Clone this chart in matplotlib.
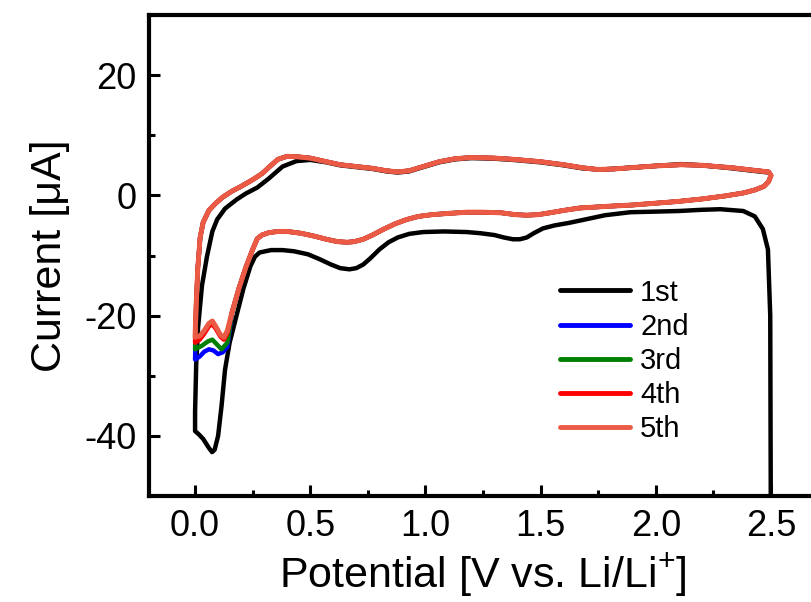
import matplotlib
matplotlib.use("Agg")
import matplotlib.pyplot as plt
import numpy as np

plt.rcParams['font.family'] = ['Liberation Sans', 'DejaVu Sans']
plt.rcParams['axes.unicode_minus'] = False
plt.rcParams['mathtext.default'] = 'regular'

# cycles 2-5 share the same loop away from the low potential region
lower_x = [2.50, 2.49, 2.47, 2.43, 2.38, 2.30, 2.20, 2.10, 2.00, 1.90, 1.80, 1.67,
           1.60, 1.54, 1.49, 1.44, 1.39, 1.33, 1.25, 1.18, 1.10, 1.03, 0.97, 0.92,
           0.87, 0.82, 0.77, 0.73, 0.69, 0.66, 0.62, 0.57, 0.52, 0.46, 0.40, 0.36,
           0.32, 0.29, 0.27, 0.25, 0.22, 0.19, 0.16]
lower_y = [3.3, 2.3, 1.5, 0.9, 0.4, -0.1, -0.6, -1.0, -1.3, -1.6, -1.8, -2.1,
           -2.5, -2.9, -3.2, -3.3, -3.2, -2.9, -2.8, -2.8, -3.0, -3.2, -3.5, -4.0,
           -4.7, -5.6, -6.6, -7.3, -7.7, -7.8, -7.7, -7.3, -6.8, -6.3, -6.0, -6.0,
           -6.2, -6.6, -7.2, -9.0, -12.0, -15.5, -19.5]

upper_x = [0.005, 0.012, 0.022, 0.035, 0.06, 0.09, 0.12, 0.16, 0.20, 0.25, 0.29,
           0.33, 0.36, 0.40, 0.45, 0.50, 0.57, 0.63, 0.70, 0.77, 0.83, 0.88, 0.93,
           0.99, 1.06, 1.13, 1.20, 1.30, 1.38, 1.50, 1.60, 1.68, 1.75, 1.82, 1.89,
           2.00, 2.11, 2.20, 2.33, 2.42, 2.49, 2.50]
upper_y = [-18.0, -12.0, -7.0, -4.5, -2.5, -1.3, -0.3, 0.7, 1.5, 2.6, 3.6,
           5.0, 6.0, 6.5, 6.4, 6.2, 5.6, 5.1, 4.8, 4.5, 4.1, 3.9, 4.1,
           4.8, 5.6, 6.1, 6.3, 6.2, 6.0, 5.6, 5.1, 4.6, 4.3, 4.4, 4.6,
           4.9, 5.1, 5.0, 4.6, 4.2, 3.9, 3.3]

# low potential part of each cycle (cathodic end, x going to 0)
tail_x = {
    '2nd': [0.14, 0.12, 0.10, 0.08, 0.06, 0.04, 0.02, 0.0],
    '3rd': [0.14, 0.115, 0.095, 0.075, 0.055, 0.03, 0.0],
    '4th': [0.14, 0.125, 0.11, 0.09, 0.075, 0.06, 0.04, 0.02, 0.0],
    '5th': [0.14, 0.125, 0.11, 0.09, 0.075, 0.06, 0.04, 0.02, 0.0],
}
tail_y = {
    '2nd': [-25.2, -26.1, -26.4, -25.8, -25.6, -26.0, -26.8, -27.3],
    '3rd': [-24.5, -25.6, -24.8, -24.0, -24.3, -25.0, -25.6],
    '4th': [-23.0, -24.0, -23.5, -22.2, -21.4, -21.8, -23.0, -24.0, -24.5],
    '5th': [-22.5, -23.6, -23.2, -21.8, -20.9, -21.3, -22.5, -23.4, -23.6],
}

# first cycle, starting from the open circuit potential
first_x = [2.50, 2.497, 2.487, 2.465, 2.43, 2.38, 2.28, 2.20, 2.10, 2.00, 1.89,
           1.78, 1.67, 1.62, 1.56, 1.51, 1.47, 1.44, 1.41, 1.38, 1.34, 1.30, 1.24,
           1.18, 1.08, 0.99, 0.93, 0.88, 0.84, 0.80, 0.76, 0.73, 0.70, 0.67, 0.63,
           0.59, 0.54, 0.49, 0.43, 0.38, 0.33, 0.28, 0.26, 0.24, 0.21, 0.18, 0.15,
           0.13, 0.115, 0.10, 0.085, 0.074, 0.06, 0.035, 0.015, 0.0, 0.0, 0.005,
           0.013, 0.03, 0.052, 0.075, 0.096, 0.13, 0.18, 0.22, 0.27, 0.32, 0.38,
           0.44, 0.50, 0.57, 0.63, 0.70, 0.77, 0.83, 0.88, 0.93, 0.99, 1.06, 1.13,
           1.20, 1.30, 1.38, 1.50, 1.60, 1.68, 1.75, 1.82, 1.89, 2.00, 2.11, 2.20,
           2.33, 2.42, 2.49]
first_y = [-60.0, -20.0, -9.0, -5.6, -3.5, -2.6, -2.3, -2.4, -2.6, -2.7, -2.8,
           -3.3, -4.2, -4.6, -5.0, -5.5, -6.3, -7.0, -7.3, -7.3, -7.0, -6.6, -6.3,
           -6.1, -6.0, -6.1, -6.4, -7.0, -7.8, -9.0, -10.5, -11.5, -12.1, -12.3, -12.1,
           -11.5, -10.6, -9.8, -9.3, -9.1, -9.1, -9.5, -10.2, -11.8, -15.5, -20.0, -24.5,
           -29.0, -35.0, -40.0, -42.3, -42.7, -42.0, -40.5, -39.7, -39.2, -36.0, -28.0,
           -22.0, -15.0, -10.1, -6.0, -4.0, -2.2, -0.7, 0.3, 1.3, 2.8, 4.8,
           5.7, 5.9, 5.5, 5.0, 4.7, 4.4, 4.0, 3.8, 4.0, 4.7, 5.5, 6.0,
           6.2, 6.1, 5.9, 5.5, 5.0, 4.5, 4.3, 4.4, 4.6, 4.9, 5.2, 5.0,
           4.5, 4.1, 3.8]

labels = ['1st', '2nd', '3rd', '4th', '5th']
colors = ['black', '#0000FF', '#008000', '#FF0000', '#EA5A44']

fig = plt.figure(figsize=(8.11, 6.02), dpi=100)
ax = fig.add_axes([149 / 811, 106 / 602, 668 / 811, 481 / 602])

ax.plot(first_x, first_y, color=colors[0], lw=3.2, label=labels[0],
        solid_joinstyle='round', solid_capstyle='round')
for lab, col in zip(labels[1:], colors[1:]):
    x = lower_x + tail_x[lab] + upper_x
    y = lower_y + tail_y[lab] + upper_y
    ax.plot(x, y, color=col, lw=3.6 if lab == '5th' else 3.2, label=lab,
            solid_joinstyle='round', solid_capstyle='round')

ax.set_xlim(-0.2, 2.7)
ax.set_ylim(-50, 30)
ax.set_xticks(np.arange(0, 2.51, 0.5))
ax.set_xticks(np.arange(0.25, 2.6, 0.5), minor=True)
ax.set_yticks([-40, -20, 0, 20])
ax.set_yticks([-50, -30, -10, 10, 30], minor=True)
ax.set_xticklabels(['0.0', '0.5', '1.0', '1.5', '2.0', '2.5'])
ax.tick_params(which='major', direction='in', length=8, width=2.2, labelsize=26, pad=9)
ax.tick_params(which='minor', direction='in', length=4.5, width=2.2)
for sp in ax.spines.values():
    sp.set_linewidth(3)

ax.set_xlabel('Potential [V vs. Li/Li$^{+}$]', fontsize=31, labelpad=6)
ax.set_ylabel('Current [\u03bcA]', fontsize=31, labelpad=10)

leg = ax.legend(loc='upper left', bbox_to_anchor=(0.615, 0.452), frameon=False,
                fontsize=21, handlelength=2.4, handletextpad=0.35, labelspacing=0.21,
                borderpad=0, borderaxespad=0)
for line in leg.get_lines():
    line.set_linewidth(3.5)

fig.savefig('out.png', dpi=100)
